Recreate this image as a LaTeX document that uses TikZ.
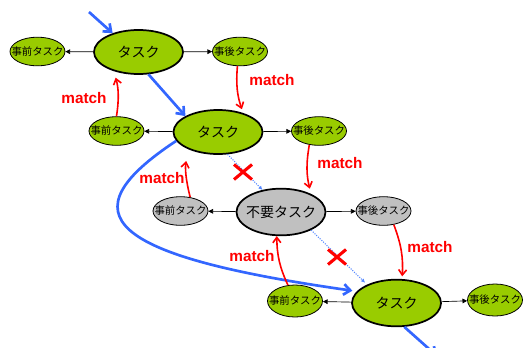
\documentclass[tikz,border=0pt]{standalone}
\usepackage{fontspec}
\setmainfont{Liberation Sans}
\newfontfamily\jpfont{Noto Sans CJK JP}
\usetikzlibrary{shapes.geometric,arrows.meta}

\definecolor{taskgreen}{HTML}{99CC00}
\definecolor{skipgray}{HTML}{C0C0C0}
\definecolor{flowblue}{HTML}{3366FF}
\definecolor{dotblue}{HTML}{5588FF}

% text is boxed at zero width so that the ellipse keeps its own size
\newcommand\ctext[1]{\makebox[0pt]{#1}}

\begin{document}
\begin{tikzpicture}[x=0.75pt,y=-0.75pt,
  bigtask/.style={ellipse,draw,line width=1.3pt,minimum width=66.75pt,
    minimum height=33pt,inner sep=0pt,fill=taskgreen,
    font=\jpfont\fontsize{10.5}{12}\selectfont},
  smalltask/.style={ellipse,draw,line width=0.6pt,minimum width=41.25pt,
    minimum height=21.5pt,inner sep=0pt,fill=taskgreen,
    font=\jpfont\fontsize{7.8}{9}\selectfont},
  skipped/.style={fill=skipgray},
  link/.style={-{Triangle[length=3.5pt,width=3.5pt]},line width=0.5pt},
  flow/.style={-{Straight Barb[length=5pt,width=8pt]},line width=2pt,flowblue},
  skipflow/.style={-{Latex[length=3pt,width=3pt]},line width=0.8pt,dotblue,densely dotted},
  matcharrow/.style={-{Straight Barb[length=4pt,width=6pt]},line width=1.2pt,red},
  matchlabel/.style={text=red,font=\bfseries\fontsize{11.5}{13}\selectfont,inner sep=0pt},
  cross/.style={red,line width=2.3pt}]

\useasboundingbox[fill=white] (0,0) rectangle (523,347);

% tasks
\node[bigtask] (task1) at (138.5,52) {\ctext{タスク}};
\node[smalltask] (pre1) at (37.5,51.5) {\ctext{事前タスク}};
\node[smalltask] (post1) at (240,51.5) {\ctext{事後タスク}};

\node[bigtask] (task2) at (218,132) {\ctext{タスク}};
\node[smalltask] (pre2) at (116.5,131) {\ctext{事前タスク}};
\node[smalltask] (post2) at (319,131) {\ctext{事後タスク}};

\node[bigtask,skipped,minimum height=35pt] (skip) at (281,212) {\ctext{不要タスク}};
\node[smalltask,skipped] (pre3) at (180.5,211) {\ctext{事前タスク}};
\node[smalltask,skipped] (post3) at (383.5,211) {\ctext{事後タスク}};

\node[bigtask,minimum height=35pt] (task3) at (396.5,303) {\ctext{タスク}};
\node[smalltask,minimum height=24pt] (pre4) at (295,301) {\ctext{事前タスク}};
\node[smalltask,minimum height=24pt] (post4) at (495,300) {\ctext{事後タスク}};

% pre / post links
\draw[link] (task1) -- (pre1);
\draw[link] (task1) -- (post1);
\draw[link] (task2) -- (pre2);
\draw[link] (task2) -- (post2);
\draw[link] (skip) -- (pre3);
\draw[link] (skip) -- (post3);
\draw[link] (task3) -- (pre4);
\draw[link] (task3) -- (post4);

% main flow
\coordinate (flowin) at (89,12);
\coordinate (flowout) at (437,356);
\draw[flow] (flowin) -- (task1.144);
\draw[flow] (task1.-66) -- (task2.154);
\draw[flow] (task2.-168) .. controls (64,215) and (108,256) .. ([xshift=-5pt,yshift=-1pt]task3.160);
\draw[flow] (task3.-72) -- (flowout);

% skipped flow
\draw[skipflow] (task2.-67) -- (skip.130);
\draw[skipflow,shorten >=2pt] (skip.-31) -- (task3.148);

% crosses
\draw[cross] (234,164.5) -- (252,179.5) (234,179.5) -- (252,164.5);
\draw[cross] (328,249.5) -- (346,264.5) (328,264.5) -- (346,249.5);

% matching
\draw[matcharrow,shorten >=3pt] (post1.-100) to[bend right=12] (task2.37);
\node[matchlabel] at (272,80) {match};
\draw[matcharrow,shorten >=5pt] (pre2.north) to[bend right=12] (task1.-142);
\node[matchlabel] at (84,98) {match};
\draw[matcharrow,shorten >=4pt] (post2.-125) to[bend right=12] (skip.31);
\node[matchlabel] at (340,163) {match};
\draw[matcharrow,shorten >=9pt] (pre3.55) to[bend left=12] (task2.-150);
\node[matchlabel] at (162,178) {match};
\draw[matcharrow,shorten >=2pt] (post3.-53) to[bend left=12] (task3.77);
\node[matchlabel] at (430,247) {match};
\draw[matcharrow] (pre4.114) to[bend left=12] (skip.-100);
\node[matchlabel] at (252,256) {match};
\end{tikzpicture}
\end{document}
